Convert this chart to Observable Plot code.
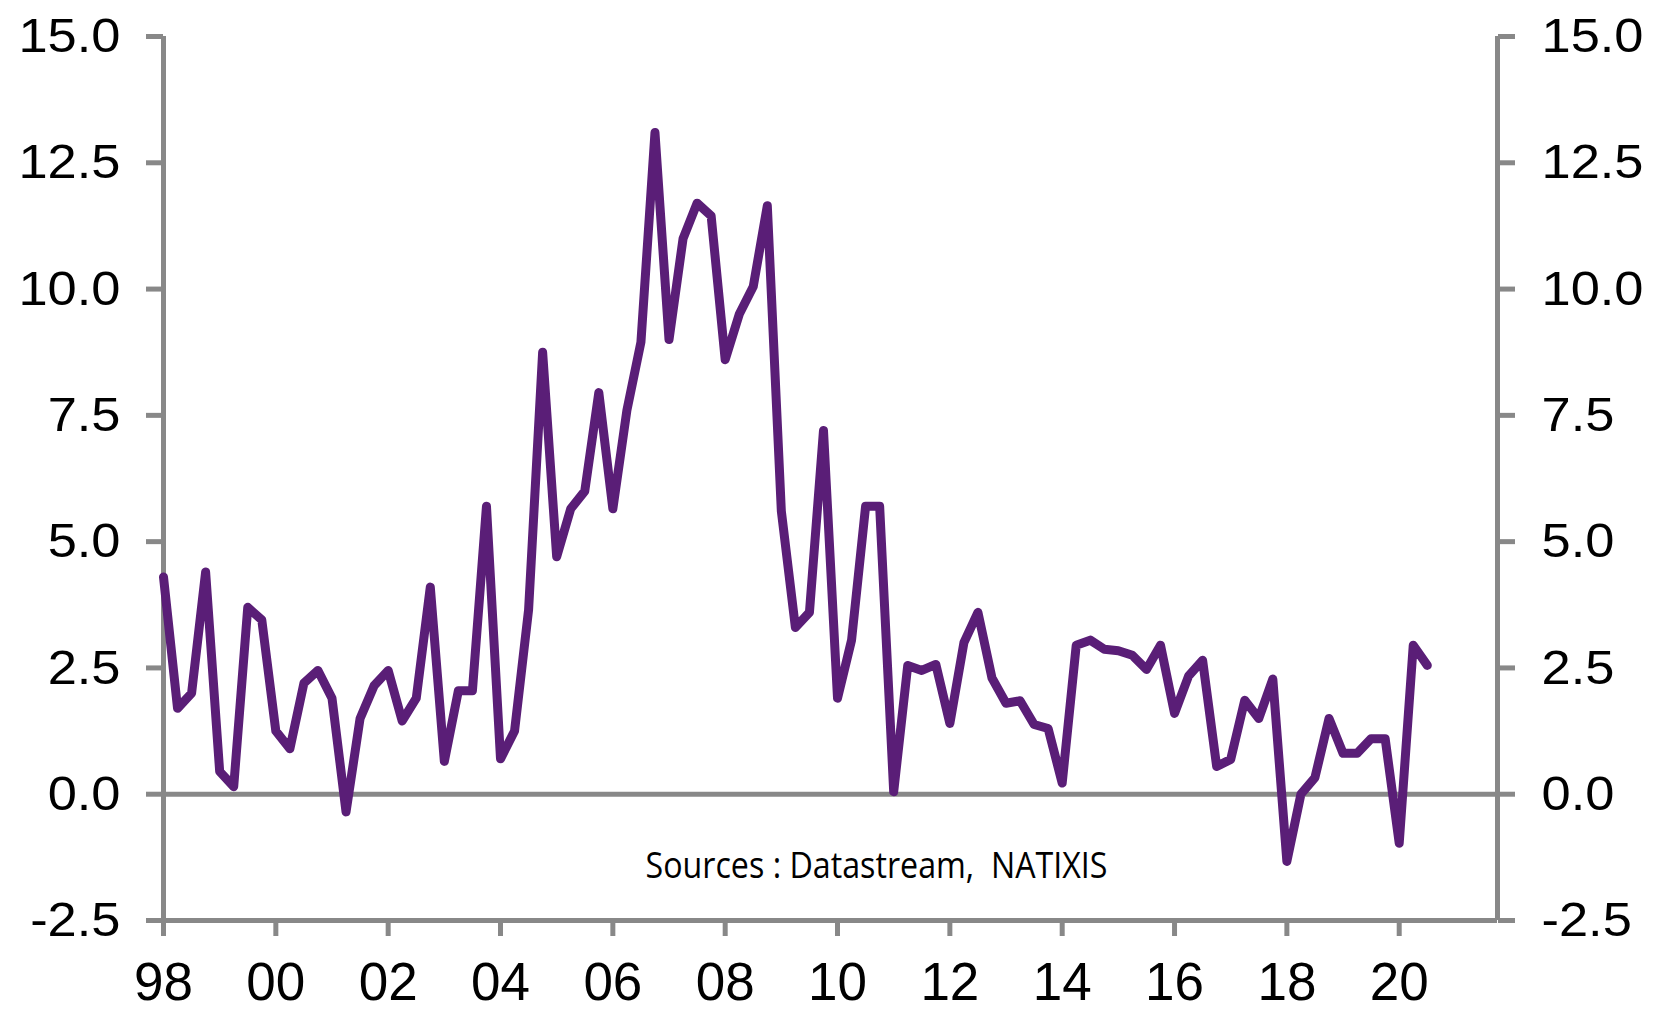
<!DOCTYPE html>
<html>
<head>
<meta charset="utf-8">
<script src="https://cdn.jsdelivr.net/npm/d3@7"></script>
<script src="https://cdn.jsdelivr.net/npm/@observablehq/plot@0.6"></script>
<style>
  html, body { margin: 0; padding: 0; background: #fff; }
  #chart svg { display: block; }
</style>
</head>
<body>
<div id="chart"></div>
<script>
// ---- data (quarterly, starting 1998 Q1) ----
const startYear = 1998;
const quarterValues = [
  4.3, 1.7, 2.0, 4.4,        // 1998
  0.45, 0.15, 3.7, 3.45,     // 1999
  1.25, 0.9, 2.2, 2.45,      // 2000
  1.9, -0.35, 1.5, 2.15,     // 2001
  2.45, 1.45, 1.9, 4.1,      // 2002
  0.65, 2.05, 2.05, 5.7,     // 2003
  0.7, 1.25, 3.65, 8.75,     // 2004
  4.7, 5.65, 6.0, 7.95,      // 2005
  5.65, 7.6, 8.95, 13.1,     // 2006
  9.0, 11.0, 11.7, 11.45,    // 2007
  8.6, 9.5, 10.05, 11.65,    // 2008
  5.6, 3.3, 3.6, 7.2,        // 2009
  1.9, 3.05, 5.7, 5.7,       // 2010
  0.05, 2.55, 2.45, 2.57,    // 2011
  1.4, 3.0, 3.6, 2.3,        // 2012
  1.8, 1.85, 1.38, 1.3,      // 2013
  0.22, 2.95, 3.05, 2.87,    // 2014
  2.84, 2.75, 2.47, 2.95,    // 2015
  1.6, 2.34, 2.65, 0.55,     // 2016
  0.69, 1.86, 1.5, 2.28,     // 2017
  -1.33, 0.0, 0.33, 1.5,     // 2018
  0.81, 0.81, 1.1, 1.1,      // 2019
  -0.97, 2.95, 2.55          // 2020
];
const xTickYears = [1998, 2000, 2002, 2004, 2006, 2008, 2010, 2012, 2014, 2016, 2018, 2020];
const xTickLabels = ["98", "00", "02", "04", "06", "08", "10", "12", "14", "16", "18", "20"];
const yTicks = [-2.5, 0, 2.5, 5, 7.5, 10, 12.5, 15];
const xDomain = [1998, 2021.75];
const yDomain = [-2.5, 15];
const caption = "Sources : Datastream,  NATIXIS";

// ---- build ----
const data = quarterValues.map((v, i) => ({date: startYear + i / 4, value: v}));
const gray = "#888888";
const purple = "#5A1E77";
const axisWidth = 5;

const chart = Plot.plot({
  width: 1664,
  height: 1015,
  marginLeft: 163,
  marginRight: 167,
  marginTop: 36,
  marginBottom: 95,
  style: {fontFamily: '"Liberation Sans", Arial, sans-serif', background: "#fff", color: "#000"},
  x: {domain: xDomain},
  y: {domain: yDomain},
  marks: [
    Plot.ruleY([0], {stroke: gray, strokeWidth: axisWidth}),
    Plot.ruleX(xDomain, {stroke: gray, strokeWidth: axisWidth}),
    Plot.ruleY([yDomain[0]], {stroke: gray, strokeWidth: axisWidth}),
    Plot.axisY(yTicks, {
      anchor: "left", tickSize: 17, tickPadding: 26, stroke: gray, strokeWidth: axisWidth,
      fill: "#000", fontSize: 49, tickFormat: d => d.toFixed(1), label: null
    }),
    Plot.axisY(yTicks, {
      anchor: "right", tickSize: 17, tickPadding: 27, stroke: gray, strokeWidth: axisWidth,
      fill: "#000", fontSize: 49, tickFormat: d => d.toFixed(1), label: null
    }),
    Plot.axisX(xTickYears, {
      anchor: "bottom", tickSize: 16, tickPadding: 26, stroke: gray, strokeWidth: axisWidth,
      fill: "#000", fontSize: 53, tickFormat: d => xTickLabels[xTickYears.indexOf(d)], label: null
    }),
    Plot.lineY(data, {x: "date", y: "value", stroke: purple, strokeWidth: 9, strokeLinejoin: "round"}),
    Plot.text([caption], {
      text: d => d, frameAnchor: "bottom", dx: 46, dy: -54, lineAnchor: "middle",
      fontSize: 37, fontFamily: '"Open Sans", sans-serif', fill: "#000"
    })
  ]
});

document.getElementById("chart").appendChild(chart);

// caption styling: keep double space and match its width
d3.select(chart).selectAll('g[aria-label="text"] text')
  .style("white-space", "pre")
  .attr("textLength", 462)
  .attr("lengthAdjust", "spacingAndGlyphs");

// y tick labels are slightly wider in the original
d3.select(chart).selectAll('g[aria-label="y-axis tick label"] text')
  .attr("transform", function () {
    const t = this.getAttribute("transform") || "";
    return t + " scale(1.07,1)";
  });
</script>
</body>
</html>
